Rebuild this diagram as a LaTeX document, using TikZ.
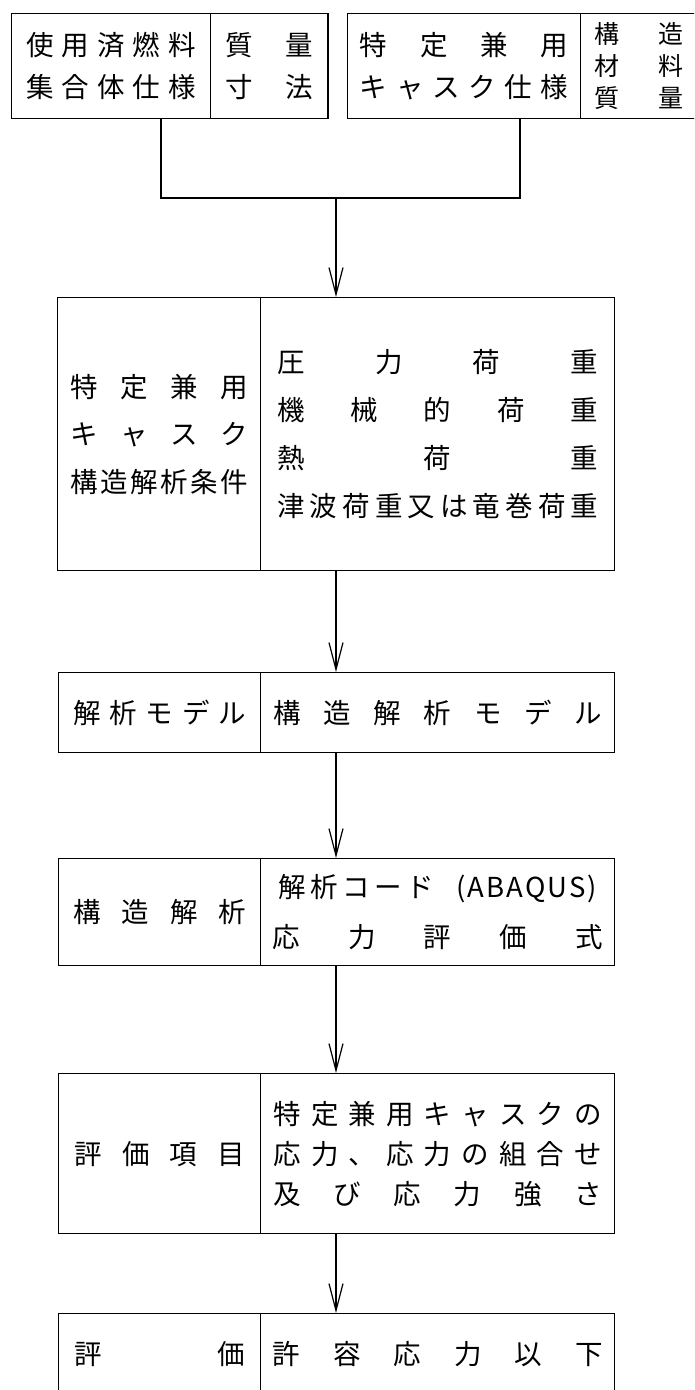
\documentclass[tikz,border=0pt]{standalone}
\usepackage{fontspec}
\newfontfamily\jpfont{Noto Sans CJK JP}
\usetikzlibrary{arrows.meta}

\makeatletter
% spread the characters of #2 evenly over the width #1
\newcommand{\jspread}[2]{\makebox[#1]{\let\js@sep\relax\@tfor\js@c:=#2\do{\js@sep\js@c\let\js@sep\hfill}}}
\makeatother

\tikzset{
  cell/.style={draw, line width=1.4pt, inner sep=0pt, anchor=north west, align=center},
  jtext/.style={font=\jpfont\fontsize{27.5}{#1}\selectfont},
  flow/.style={line width=1.2pt},
  flowarrow/.style={flow, -{Straight Barb[length=27pt,width=14pt]}},
}

\begin{document}
\begin{tikzpicture}[x=1pt, y=-1pt]
  \useasboundingbox (0,0) rectangle (694,1390);
  \clip (0,0) rectangle (694,1390);

  % input specifications
  \node[cell, jtext=42, minimum width=199.4pt, minimum height=105pt] (fuelspec) at (10.6,13)
    {\jspread{170pt}{使用済燃料}\\\jspread{170pt}{集合体仕様}};
  \node[cell, jtext=42, minimum width=117.4pt, minimum height=105pt] (fuelmass) at (210,13)
    {\jspread{87pt}{質量}\\\jspread{87pt}{寸法}};
  \node[cell, jtext=42, minimum width=233.5pt, minimum height=105pt] (caskspec) at (346.5,13)
    {\jspread{208pt}{特定兼用}\\\jspread{208pt}{キャスク仕様}};
  \node[cell, font=\jpfont\fontsize{25}{32}\selectfont, minimum width=117pt, minimum height=105pt] (caskmat) at (580,13)
    {\jspread{89pt}{構造}\\\jspread{89pt}{材料}\\\jspread{89pt}{質量}};

  % analysis conditions
  \node[cell, jtext=47.5, minimum width=203pt, minimum height=273pt] (cond) at (57,297)
    {\jspread{177pt}{特定兼用}\\\jspread{177pt}{キャスク}\\\jspread{177pt}{構造解析条件}};
  \node[cell, jtext=48, minimum width=354pt, minimum height=273pt] (loads) at (260,297)
    {\jspread{321pt}{圧力荷重}\\\jspread{321pt}{機械的荷重}\\\jspread{321pt}{熱荷重}\\
     \jspread{321pt}{津波荷重又は竜巻荷重}};

  % model
  \node[cell, jtext=40, minimum width=202pt, minimum height=80pt] (model) at (58,672)
    {\jspread{172pt}{解析モデル}};
  \node[cell, jtext=40, minimum width=354pt, minimum height=80pt] (modelr) at (260,672)
    {\jspread{328pt}{構造解析モデル}};

  % analysis
  \node[cell, jtext=50, minimum width=202pt, minimum height=107pt] (anal) at (58,858)
    {\jspread{172pt}{構造解析}};
  \node[cell, jtext=50, minimum width=354pt, minimum height=107pt] (code) at (260,858)
    {\makebox[318pt]{\jspread{155pt}{解析コード}\hfill\jspread{140pt}{(ABAQUS)}}\\
     \jspread{330pt}{応力評価式}};

  % evaluation items
  \node[cell, jtext=40, minimum width=202pt, minimum height=160pt] (item) at (58,1073)
    {\jspread{170pt}{評価項目}};
  \node[cell, jtext=40, minimum width=354pt, minimum height=160pt] (stress) at (260,1073)
    {\jspread{328pt}{特定兼用キャスクの}\\\jspread{328pt}{応力、応力の組合せ}\\
     \jspread{328pt}{及び応力強さ}};

  % judgement
  \node[cell, jtext=40, minimum width=202pt, minimum height=80pt] (judge) at (58,1313)
    {\jspread{170pt}{評価}};
  \node[cell, jtext=40, minimum width=354pt, minimum height=80pt] (allow) at (260,1313)
    {\jspread{330pt}{許容応力以下}};

  % connectors
  \coordinate (lj) at ([xshift=50pt]fuelspec.south);
  \coordinate (rj) at ([xshift=56pt]caskspec.south);
  \coordinate (bar) at (336,198);
  \draw[flow] (lj) |- (bar) -| (rj);
  \draw[flowarrow] (bar) -- (bar |- loads.north);
  \draw[flowarrow] (bar |- loads.south) -- (bar |- modelr.north);
  \draw[flowarrow] (bar |- modelr.south) -- (bar |- code.north);
  \draw[flowarrow] (bar |- code.south) -- (bar |- stress.north);
  \draw[flowarrow] (bar |- stress.south) -- (bar |- allow.north);
\end{tikzpicture}
\end{document}
